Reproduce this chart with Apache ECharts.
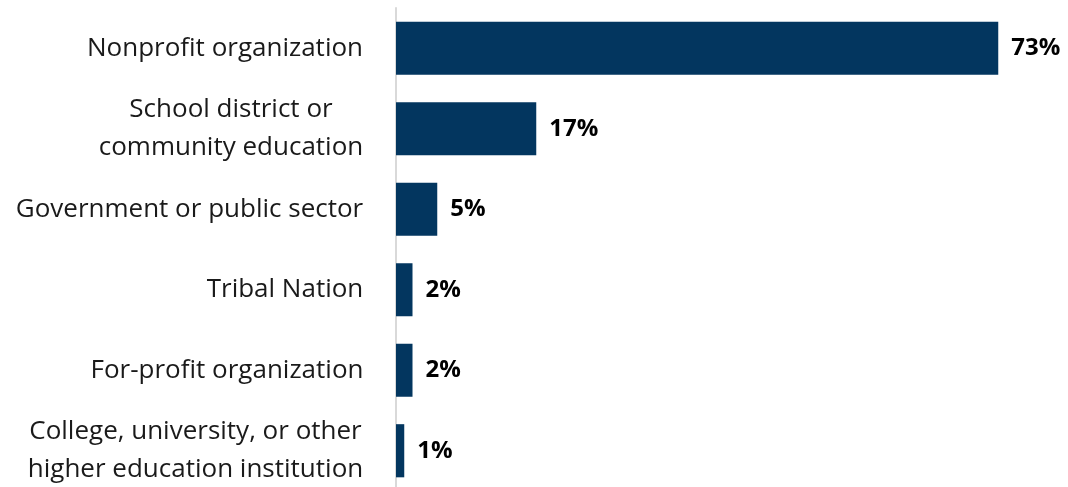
<!DOCTYPE html>
<html>
<head>
<meta charset="utf-8">
<style>
  html, body { margin: 0; padding: 0; background: #ffffff; }
  #chart { width: 1068px; height: 487px; }
</style>
<script src="https://cdn.jsdelivr.net/npm/echarts@6/dist/echarts.min.js"></script>
</head>
<body>
<div id="chart"></div>
<script>
// Organization types, listed top to bottom
const categories = [
  'Nonprofit organization',
  'School district or\ncommunity education',
  'Government or public sector',
  'Tribal Nation',
  'For-profit organization',
  'College, university, or other\nhigher education institution'
];
// Share of respondents, percent
const shares = [73, 17, 5, 2, 2, 1];

const FONT = 'Open Sans';
const CAT_SIZE = 26;
const VAL_SIZE = 24;

// Width of the widest line of each label, so wrapped labels can be centred line by line
const ctx = document.createElement('canvas').getContext('2d');
ctx.font = CAT_SIZE + 'px "' + FONT + '"';
const rich = {};
categories.forEach((c, i) => {
  const w = Math.max(...c.split('\n').map(l => ctx.measureText(l).width));
  rich['c' + i] = {
    width: Math.ceil(w) + 1,
    align: 'center',
    fontFamily: FONT,
    fontSize: CAT_SIZE,
    lineHeight: 38,
    color: '#1a1a1a'
  };
});

const chart = echarts.init(document.getElementById('chart'), null, { renderer: 'canvas' });
chart.setOption({
  animation: false,
  grid: {
    left: 396, right: 12, top: 8, height: 483,
    containLabel: false,
    outerBoundsMode: 'none'
  },
  xAxis: {
    type: 'value',
    min: 0,
    max: 80,
    show: false
  },
  yAxis: {
    type: 'category',
    inverse: true,
    data: categories,
    axisLine: { show: true, lineStyle: { color: '#d9d9d9', width: 2 } },
    axisTick: { show: false },
    axisLabel: {
      margin: 32,
      align: 'right',
      formatter: (value, idx) => value.split('\n').map(l => '{c' + idx + '|' + l + '}').join('\n'),
      rich: rich
    }
  },
  series: [{
    type: 'bar',
    data: shares,
    barCategoryGap: '34%',
    itemStyle: { color: '#03365f' },
    label: {
      show: true,
      position: 'right',
      distance: 13,
      formatter: p => p.value + '%',
      fontFamily: FONT,
      fontWeight: 'bold',
      fontSize: VAL_SIZE,
      color: '#000000'
    }
  }]
});
</script>
</body>
</html>
